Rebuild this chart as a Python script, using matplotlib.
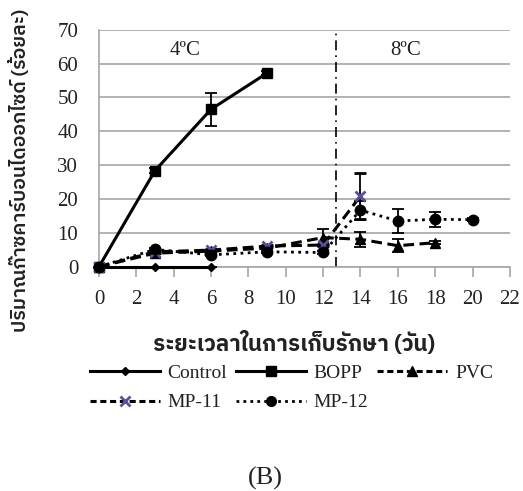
import matplotlib
matplotlib.use("Agg")
import matplotlib.pyplot as plt
from matplotlib import font_manager
from matplotlib.ft2font import FT2Font
from matplotlib.lines import Line2D

# ---- data ----
control_x = [0, 3, 6]
control_y = [0, 0, 0]
control_err = [0, 0, 0]

bopp_x = [0, 3, 6, 9]
bopp_y = [0, 28.4, 46.5, 57.2]
bopp_err = [0, 0.7, 4.9, 0.5]

pvc_x = [0, 3, 6, 9, 12, 14, 16, 18]
pvc_y = [0, 4.0, 4.6, 5.5, 8.6, 8.1, 6.2, 7.1]
pvc_err = [0, 0.3, 0.3, 0.3, 2.4, 2.2, 1.9, 0.5]

mp11_x = [0, 3, 6, 9, 12, 14]
mp11_y = [0, 4.4, 4.9, 6.1, 6.4, 20.9]
mp11_err = [0, 0.3, 0.3, 0.3, 0.3, 6.8]

mp12_x = [0, 3, 6, 9, 12, 14, 16, 18, 20]
mp12_y = [0, 5.1, 3.5, 4.4, 4.2, 16.7, 13.5, 14.0, 13.9]
mp12_err = [0, 0.3, 0.3, 0.3, 0.3, 2.8, 3.5, 2.3, 0.5]

x_ticks = list(range(0, 23, 2))
y_ticks = list(range(0, 71, 10))
series_labels = ["Control", "BOPP", "PVC", "MP-11", "MP-12"]
region_labels = ["4ºC", "8ºC"]
region_x = [4.6, 16.4]
boundary_x = 12.7

xlabel = "ระยะเวลาในการเก็บรักษา (วัน)"
ylabel = "ปริมาณก๊าซคาร์บอนไดออกไซด์ (ร้อยละ)"

# ---- find a font with Thai glyphs ----
thai_font = None
preferred = []
for f in font_manager.fontManager.ttflist:
    try:
        ft = FT2Font(f.fname)
        if 0x0E01 in ft.get_charmap():
            preferred.append(f.name)
    except Exception:
        pass
if preferred:
    for cand in preferred:
        if "Sans" in cand:
            thai_font = cand
            break
    if thai_font is None:
        thai_font = preferred[0]
thai_family = [thai_font, "DejaVu Sans"] if thai_font else ["DejaVu Sans"]
serif = ["Liberation Serif", "DejaVu Serif"]

plt.rcParams["font.family"] = serif

fig = plt.figure(figsize=(5.23, 4.91), dpi=100)
ax = fig.add_axes([0.1893, 0.4568, 0.7857, 0.4827])

grid_c = "#a6a6a6"
txt_c = "#222222"
ax.set_xlim(0, 22)
ax.set_ylim(0, 70)
ax.set_xticks(x_ticks)
ax.set_yticks(y_ticks)
ax.yaxis.grid(True, color=grid_c, linewidth=1.2)
ax.set_axisbelow(True)
for s in ["top", "right"]:
    ax.spines[s].set_visible(False)
for s in ["left", "bottom"]:
    ax.spines[s].set_color(grid_c)
    ax.spines[s].set_linewidth(1.2)
ax.tick_params(axis="x", direction="out", length=7, width=1.2, color=grid_c,
               labelsize=15, pad=10, labelcolor=txt_c)
ax.tick_params(axis="y", length=0, labelsize=15, pad=15, labelcolor=txt_c)

common = dict(color="black", ecolor="black", capsize=4, elinewidth=1.3, capthick=1.3,
              clip_on=False, zorder=3)
ax.errorbar(control_x, control_y, yerr=control_err, marker="D", markersize=4.5,
            linestyle="-", linewidth=2.2, label=series_labels[0], **common)
ax.errorbar(bopp_x, bopp_y, yerr=bopp_err, marker="s", markersize=7,
            linestyle="-", linewidth=2.2, label=series_labels[1], **common)
ax.errorbar(pvc_x, pvc_y, yerr=pvc_err, marker="^", markersize=7,
            linestyle=(0, (3.5, 1.8)), linewidth=2.2, label=series_labels[2], **common)
ax.errorbar(mp11_x, mp11_y, yerr=mp11_err, marker="x", markersize=7,
            markeredgecolor="#5a4f9c", markeredgewidth=2,
            linestyle=(0, (3.5, 1.8)), linewidth=2.2, label=series_labels[3], **common)
ax.errorbar(mp12_x, mp12_y, yerr=mp12_err, marker="o", markersize=7.5,
            linestyle=(0, (1, 1.6)), linewidth=2.0, label=series_labels[4], **common)

ax.axvline(boundary_x, color="black", linewidth=1.2, linestyle=(0, (6, 3, 1, 3)))
for lx, lt in zip(region_x, region_labels):
    ax.text(lx, 64, lt, ha="center", va="center", fontsize=15, color=txt_c)

handle_map = {
    "Control": Line2D([], [], color="black", lw=2.2, marker="D", markersize=4.5),
    "BOPP": Line2D([], [], color="black", lw=2.2, marker="s", markersize=7),
    "PVC": Line2D([], [], color="black", lw=2.2, marker="^", markersize=7,
                  linestyle=(0, (2, 1.2))),
    "MP-11": Line2D([], [], color="black", lw=2.2, marker="x", markersize=7,
                    markeredgecolor="#5a4f9c", markeredgewidth=2, linestyle=(0, (2, 1.2))),
    "MP-12": Line2D([], [], color="black", lw=2.0, marker="o", markersize=7,
                    linestyle=(0, (1, 1.5))),
}
# column-major fill so that rows read Control/BOPP/PVC then MP-11/MP-12
order = ["Control", "MP-11", "BOPP", "MP-12", "PVC"]
fig.legend([handle_map[k] for k in order], order, loc="center",
           bbox_to_anchor=(0.557, 0.21), ncol=3,
           frameon=False, fontsize=14, handlelength=3.6, columnspacing=0.45,
           handletextpad=0.4, labelspacing=0.6, labelcolor=txt_c)

fig.text(0.563, 1 - 343 / 491, xlabel, ha="center", va="center", fontsize=16,
         fontweight="bold", family=thai_family, color=txt_c)
fig.text(0.038, 1 - 170 / 491, ylabel, ha="center", va="center", fontsize=14,
         fontweight="semibold", rotation=90, family=thai_family, color=txt_c)
fig.text(0.507, 1 - 478 / 491, "(B)", ha="center", va="center", fontsize=19, color=txt_c)

fig.savefig("out.png", dpi=100)
